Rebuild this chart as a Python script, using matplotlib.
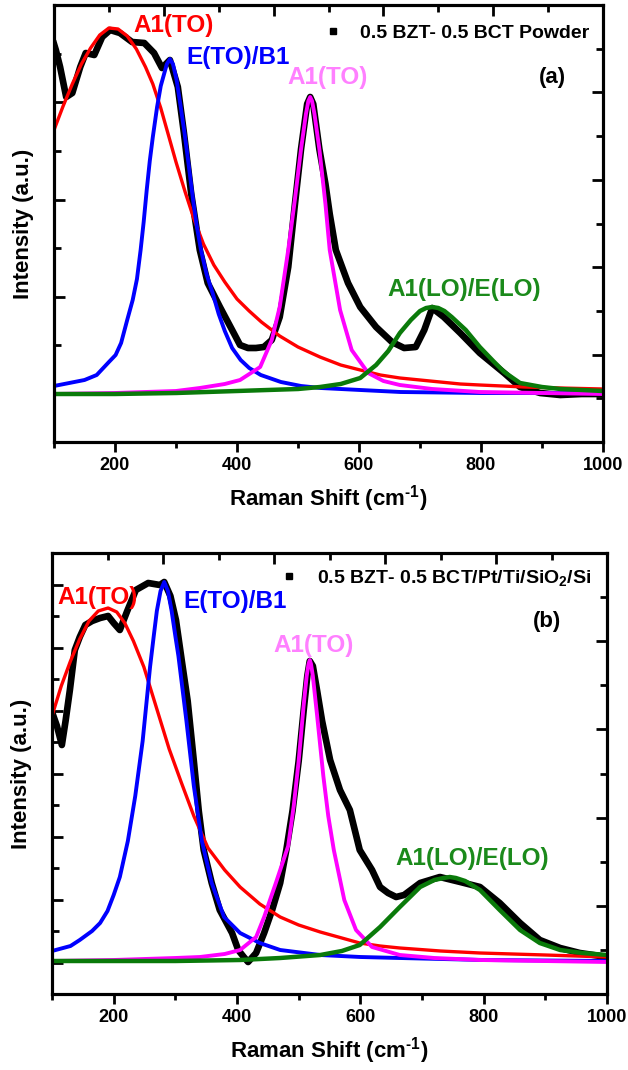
import matplotlib
matplotlib.use("Agg")
import matplotlib.pyplot as plt
from matplotlib.ticker import MultipleLocator, FixedLocator, NullFormatter
from matplotlib.lines import Line2D
import numpy as np

plt.rcParams['font.family'] = ['Liberation Sans', 'DejaVu Sans']
plt.rcParams['font.weight'] = 'bold'
plt.rcParams['mathtext.default'] = 'bf'
plt.rcParams['mathtext.fontset'] = 'custom'
plt.rcParams['mathtext.rm'] = 'Liberation Sans:bold'
plt.rcParams['mathtext.bf'] = 'Liberation Sans:bold'

# ---------------- Panel (a): powder ----------------
a_black_x = [100,103,110,120,130,143,152,166,179,192,208,228,248,264,277,290,303,313,325,339,352,372,392,405,418,431,444,457,470,484,495,505,515,520,525,535,545,552,562,582,602,628,654,674,693,707,720,739,766,798,838,864,897,930,965,1000]
a_black_y = [3.50,3.44,3.27,2.97,3.01,3.27,3.41,3.39,3.57,3.64,3.61,3.52,3.51,3.41,3.26,3.34,3.07,2.61,2.00,1.44,1.11,0.87,0.64,0.49,0.46,0.46,0.47,0.54,0.77,1.27,1.90,2.45,2.90,2.97,2.90,2.45,2.10,1.80,1.44,1.11,0.87,0.67,0.52,0.46,0.47,0.64,0.86,0.77,0.61,0.41,0.21,0.07,0.01,-0.01,0.00,0.00]

a_red_x = [100,115,130,145,160,175,190,205,220,235,250,262,275,288,300,315,330,345,362,380,400,420,440,470,500,536,570,602,635,667,700,733,766,798,835,870,930,1000]
a_red_y = [2.64,2.88,3.10,3.30,3.46,3.59,3.66,3.65,3.58,3.45,3.27,3.10,2.86,2.58,2.32,2.02,1.74,1.50,1.29,1.12,0.95,0.83,0.72,0.58,0.47,0.37,0.29,0.24,0.19,0.16,0.14,0.12,0.10,0.09,0.08,0.07,0.06,0.05]

a_blue_x = [100,150,170,190,201,210,220,229,236,242,247,252,257,262,269,275,280,285,290,295,301,307,314,321,328,334,341,350,360,370,380,392,406,420,439,472,505,537,602,668,800,1000]
a_blue_y = [0.08,0.14,0.19,0.32,0.39,0.51,0.74,0.94,1.15,1.44,1.72,2.04,2.33,2.57,2.87,3.08,3.19,3.30,3.35,3.30,3.14,2.90,2.61,2.28,1.94,1.68,1.44,1.20,1.01,0.80,0.63,0.46,0.34,0.26,0.19,0.12,0.08,0.06,0.04,0.02,0.01,0.01]

a_mag_x = [100,200,300,339,380,405,438,457,470,484,495,505,513,517,520,523,527,535,545,552,569,588,615,640,667,720,798,900,1000]
a_mag_y = [0.00,0.01,0.03,0.06,0.10,0.14,0.27,0.54,0.87,1.44,1.95,2.45,2.80,2.93,2.97,2.93,2.80,2.45,1.90,1.44,0.84,0.44,0.21,0.13,0.09,0.05,0.02,0.01,0.00]

a_green_x = [100,200,300,400,500,536,570,602,628,648,667,685,700,710,720,730,740,752,775,798,820,838,864,900,930,1000]
a_green_y = [0.00,0.00,0.01,0.03,0.05,0.07,0.10,0.16,0.29,0.43,0.61,0.74,0.83,0.86,0.87,0.86,0.83,0.77,0.64,0.47,0.33,0.22,0.11,0.07,0.05,0.03]

# ---------------- Panel (b): film on Pt/Ti/SiO2/Si ----------------
b_black_x = [100,108,116,122,129,137,145,154,165,178,191,200,210,222,236,256,275,282,292,301,311,320,330,338,346,359,372,392,402,411,418,431,444,457,470,480,490,500,508,514,518,523,530,538,551,567,583,599,619,632,645,658,671,697,729,762,794,826,859,891,924,956,1000]
b_black_y = [2.49,2.35,2.16,2.40,2.71,3.11,3.24,3.36,3.40,3.43,3.45,3.38,3.31,3.50,3.71,3.78,3.76,3.79,3.65,3.41,2.98,2.60,2.00,1.50,1.11,0.78,0.51,0.28,0.11,0.04,-0.01,0.08,0.28,0.51,0.78,1.11,1.50,2.00,2.50,2.85,3.00,2.95,2.70,2.40,2.01,1.71,1.51,1.11,0.91,0.74,0.68,0.64,0.66,0.78,0.84,0.79,0.74,0.58,0.38,0.21,0.13,0.08,0.04]

b_red_x = [100,115,130,145,160,175,191,205,218,232,249,262,275,290,310,330,353,380,405,437,470,500,535,570,599,632,664,730,794,900,1000]
b_red_y = [2.45,2.75,3.00,3.22,3.40,3.50,3.53,3.49,3.38,3.20,2.94,2.68,2.42,2.12,1.78,1.45,1.13,0.91,0.74,0.57,0.44,0.36,0.29,0.23,0.18,0.15,0.13,0.10,0.08,0.06,0.04]

b_blue_x = [100,130,145,165,178,190,200,210,223,235,247,259,265,270,276,282,288,294,300,305,318,330,343,359,379,405,437,470,535,600,664,800,1000]
b_blue_y = [0.10,0.15,0.21,0.30,0.38,0.50,0.66,0.84,1.20,1.65,2.20,2.94,3.25,3.50,3.70,3.79,3.70,3.50,3.25,3.05,2.40,1.75,1.20,0.78,0.44,0.28,0.18,0.11,0.06,0.04,0.03,0.01,0.00]

b_mag_x = [100,200,300,340,380,405,431,444,463,483,492,500,508,513,516,518,520,523,530,540,548,557,574,593,619,664,720,794,1000]
b_mag_y = [0.00,0.01,0.03,0.04,0.07,0.11,0.24,0.44,0.78,1.15,1.55,2.00,2.55,2.85,2.97,3.01,2.97,2.85,2.45,1.85,1.45,1.11,0.61,0.31,0.14,0.06,0.03,0.01,-0.01]

b_green_x = [100,300,405,470,535,570,599,632,664,697,720,735,745,755,770,794,826,859,891,924,960,1000]
b_green_y = [0.00,0.00,0.01,0.03,0.06,0.10,0.16,0.34,0.54,0.74,0.81,0.83,0.84,0.83,0.80,0.71,0.51,0.31,0.18,0.11,0.08,0.06]

legend_a = "0.5 BZT- 0.5 BCT Powder"
legend_b = "0.5 BZT- 0.5 BCT/Pt/Ti/SiO$_\\mathbf{2}$/Si"
mode_labels = ["A1(TO)", "E(TO)/B1", "A1(TO)", "A1(LO)/E(LO)"]
x_ticks = [200, 400, 600, 800, 1000]
x_label = "Raman Shift (cm$^{\\text{-}\\mathbf{1}}$)"
y_label = "Intensity (a.u.)"

RED = "#FF0000"
BLUE = "#0000FF"
MAG = "#FF00FF"
MAG_TXT = "#FF80FF"
GREEN = "#0A7A0A"
GREEN_TXT = "#1B8A1B"

W, H = 628, 1070
fig = plt.figure(figsize=(W / 100, H / 100), dpi=100)


def make_panel(rect, ylim, ymaj0, ymaj_step, ylim_r):
    ax = fig.add_axes(rect)
    ax.set_xlim(100, 1000)
    ax.set_ylim(*ylim)
    ax.xaxis.set_major_locator(FixedLocator(x_ticks))
    ax.xaxis.set_minor_locator(MultipleLocator(100))
    yt = np.arange(ymaj0, ylim[1] + 1e-9, ymaj_step)
    ax.yaxis.set_major_locator(FixedLocator(yt))
    ax.yaxis.set_minor_locator(FixedLocator(yt + ymaj_step / 2))
    ax.yaxis.set_major_formatter(NullFormatter())
    ax.tick_params(axis='x', which='major', direction='out', length=7, width=2,
                   labelsize=13, pad=4)
    ax.tick_params(axis='x', which='minor', direction='out', length=4, width=2)
    ax.tick_params(axis='y', which='major', direction='in', length=8, width=2)
    ax.tick_params(axis='y', which='minor', direction='in', length=5, width=2)
    for lab in ax.get_xticklabels():
        lab.set_fontweight('bold')
    for s in ax.spines.values():
        s.set_linewidth(2.2)
    # top axis ticks (independent layer)
    axt = ax.twiny()
    axt.set_xlim(0, 5)
    axt.xaxis.set_major_locator(MultipleLocator(1))
    axt.xaxis.set_minor_locator(MultipleLocator(0.5))
    axt.xaxis.set_major_formatter(NullFormatter())
    axt.tick_params(axis='x', which='major', direction='in', length=8, width=2)
    axt.tick_params(axis='x', which='minor', direction='in', length=5, width=2)
    # right axis ticks
    axr = ax.twinx()
    axr.set_ylim(*ylim_r)
    axr.yaxis.set_major_locator(MultipleLocator(1))
    axr.yaxis.set_minor_locator(MultipleLocator(0.5))
    axr.yaxis.set_major_formatter(NullFormatter())
    axr.tick_params(axis='y', which='major', direction='in', length=8, width=2)
    axr.tick_params(axis='y', which='minor', direction='in', length=5, width=2)
    for a in (axt, axr):
        for s in a.spines.values():
            s.set_linewidth(2.2)
    ax.set_xlabel(x_label, fontsize=16, fontweight='bold', labelpad=6)
    ax.set_ylabel(y_label, fontsize=16, fontweight='bold', labelpad=11)
    return ax


def draw(ax, bx, by, rx, ry, ux, uy, mx, my, gx, gy):
    ax.plot(bx, by, color='black', lw=4.8, solid_joinstyle='round', zorder=2)
    ax.plot(rx, ry, color=RED, lw=2.4, zorder=3)
    ax.plot(ux, uy, color=BLUE, lw=2.8, zorder=4)
    ax.plot(mx, my, color=MAG, lw=2.8, zorder=4)
    ax.plot(gx, gy, color=GREEN, lw=3.2, zorder=5)


fs = 17.5
# panel (a)
ax1 = make_panel([54 / W, 1 - 442 / H, 549 / W, 437 / H], (-0.48, 3.89), 0.0, 0.972, (0, 5))
draw(ax1, a_black_x, a_black_y, a_red_x, a_red_y, a_blue_x, a_blue_y,
     a_mag_x, a_mag_y, a_green_x, a_green_y)
ax1.text(0.217, 0.954, mode_labels[0], color=RED, fontsize=fs, fontweight='bold',
         ha='center', va='center', transform=ax1.transAxes)
ax1.text(0.335, 0.881, mode_labels[1], color=BLUE, fontsize=fs, fontweight='bold',
         ha='center', va='center', transform=ax1.transAxes)
ax1.text(0.499, 0.835, mode_labels[2], color=MAG_TXT, fontsize=fs, fontweight='bold',
         ha='center', va='center', transform=ax1.transAxes)
ax1.text(0.747, 0.350, mode_labels[3], color=GREEN_TXT, fontsize=fs, fontweight='bold',
         ha='center', va='center', transform=ax1.transAxes)
ax1.text(0.907, 0.833, "(a)", color='black', fontsize=16, fontweight='bold',
         ha='center', va='center', transform=ax1.transAxes)
h1 = Line2D([], [], color='black', marker='s', ls='none', markersize=5)
ax1.legend([h1], [legend_a], loc='center right', bbox_to_anchor=(0.99, 0.936),
           frameon=False, handlelength=0.8, handletextpad=1.0,
           prop={'size': 14, 'weight': 'bold'}, borderaxespad=0)

# panel (b)
ax2 = make_panel([52 / W, 1 - 994 / H, 555 / W, 441 / H], (-0.33, 4.08), -0.015, 0.63, (0, 5))
draw(ax2, b_black_x, b_black_y, b_red_x, b_red_y, b_blue_x, b_blue_y,
     b_mag_x, b_mag_y, b_green_x, b_green_y)
ax2.text(0.083, 0.900, mode_labels[0], color=RED, fontsize=fs, fontweight='bold',
         ha='center', va='center', transform=ax2.transAxes)
ax2.text(0.330, 0.889, mode_labels[1], color=BLUE, fontsize=fs, fontweight='bold',
         ha='center', va='center', transform=ax2.transAxes)
ax2.text(0.472, 0.791, mode_labels[2], color=MAG_TXT, fontsize=fs, fontweight='bold',
         ha='center', va='center', transform=ax2.transAxes)
ax2.text(0.757, 0.308, mode_labels[3], color=GREEN_TXT, fontsize=fs, fontweight='bold',
         ha='center', va='center', transform=ax2.transAxes)
ax2.text(0.892, 0.844, "(b)", color='black', fontsize=16, fontweight='bold',
         ha='center', va='center', transform=ax2.transAxes)
h2 = Line2D([], [], color='black', marker='s', ls='none', markersize=5)
ax2.legend([h2], [legend_b], loc='center right', bbox_to_anchor=(0.985, 0.943),
           frameon=False, handlelength=0.8, handletextpad=1.0,
           prop={'size': 14, 'weight': 'bold'}, borderaxespad=0)

fig.savefig("out.png", dpi=100)
